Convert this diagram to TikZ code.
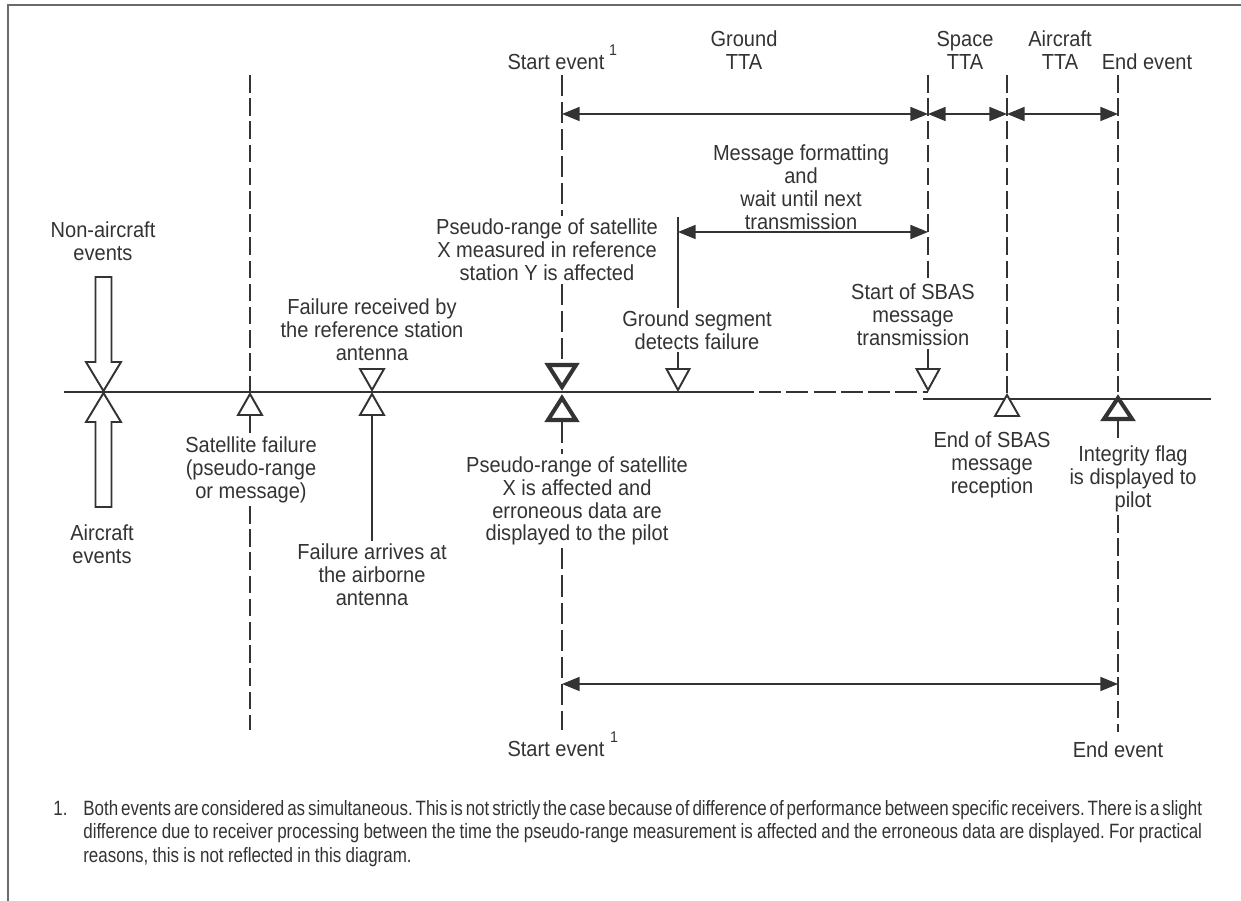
\documentclass[tikz,border=0pt]{standalone}
\usepackage{fontspec}
\setmainfont{Liberation Sans}
\newfontfamily\labfont[FakeStretch=0.92]{Liberation Sans}
\newfontfamily\notefont[FakeStretch=0.818]{Liberation Sans}
\usetikzlibrary{arrows.meta}
\definecolor{ink}{gray}{0.2}
\definecolor{framec}{gray}{0.42}
\begin{document}
\begin{tikzpicture}[x=0.02cm,y=-0.02cm,
  lbl/.style={font=\labfont\fontsize{12.4}{13.0}\selectfont, align=center, inner sep=1.5pt, text=ink},
  supnum/.style={font=\labfont\fontsize{8.8}{9}\selectfont, inner sep=0pt, text=ink},
  tline/.style={draw=ink, line width=1.1pt},
  dline/.style={draw=ink, line width=1.1pt, dash pattern=on 10pt off 3.2pt},
  sline/.style={draw=ink, line width=1.5pt, dash pattern=on 12pt off 3.4pt},
  tldash/.style={draw=ink, line width=1.1pt, dash pattern=on 12.5pt off 3pt},
  dimarrow/.style={draw=ink, line width=0.75pt, {Triangle[length=10pt,width=8pt]}-{Triangle[length=10pt,width=8pt]}},
  evtri/.style={draw=ink, line width=1.1pt, fill=white, line join=miter},
  boldtri/.style={draw=ink, line width=2.3pt, fill=white, line join=miter},
  hollow/.style={draw=ink, line width=1.1pt, fill=white, line join=miter}
]
\useasboundingbox (0,0) rectangle (1241,901);
% frame
\draw[framec, line width=1.1pt] (8,901) -- (8,5) -- (1241,5);

% named x positions
\coordinate (A) at (250,0);
\coordinate (B) at (372,0);
\coordinate (S) at (562,0);
\coordinate (G) at (678,0);
\coordinate (T) at (928,0);
\coordinate (R) at (1007,0);
\coordinate (E) at (1118,0);

% labels
\node[lbl] (nonac) at (103,241) {Non-aircraft\\events};
\node[lbl] (ac) at (102,544) {Aircraft\\events};
\node[lbl] (st) at (556,62) {Start event};
\node[supnum] (st1) at (613,50) {1};
\node[lbl] (gtta) at (744,50) {Ground\\TTA};
\node[lbl] (stta) at (965,50) {Space\\TTA};
\node[lbl] (atta) at (1060,50) {Aircraft\\TTA};
\node[lbl] (et) at (1147,62) {End event};
\node[lbl] (msg) at (801,187) {Message formatting\\and\\wait until next\\transmission};
\node[lbl] (pr1) at (547,250) {Pseudo-range of satellite\\X measured in reference\\station Y is affected};
\node[lbl] (frs) at (372,330) {Failure received by\\the reference station\\antenna};
\node[lbl] (gs) at (697,330) {Ground segment\\detects failure};
\node[lbl] (sbas) at (913,315) {Start of SBAS\\message\\transmission};
\node[lbl] (sf) at (251,470) {Satellite failure\\(pseudo-range\\or message)};
\node[lbl] (fa) at (372,575) {Failure arrives at\\the airborne\\antenna};
\node[lbl] (pr2) at (577,501) {Pseudo-range of satellite\\X is affected and\\erroneous data are\\displayed to the pilot};
\node[lbl] (eos) at (992,465) {End of SBAS\\message\\reception};
\node[lbl] (integ) at (1133,479) {Integrity flag\\is displayed to\\pilot};
\node[lbl] (sb) at (556,749) {Start event};
\node[supnum] (sb1) at (614,737) {1};
\node[lbl] (eb) at (1118,750) {End event};

% footnote
\node[anchor=base west, inner sep=0pt, text=ink, font=\notefont\fontsize{11.8}{13.6}\selectfont] (fnnum) at (53,815) {1.};
\node[anchor=north west, inner sep=0pt, text=ink, font=\notefont\fontsize{11.8}{13.6}\selectfont] (fn) at (83,798)
 {\frenchspacing\fontdimen2\font=0.21em\fontdimen3\font=0.3em\fontdimen4\font=0.08em\begin{tabular}{@{}l@{}}
 \hbox to 22.38cm{Both events are considered as simultaneous. This is not strictly the case because of difference of performance between specific receivers. There is a slight}\\
 \hbox to 22.38cm{difference due to receiver processing between the time the pseudo-range measurement is affected and the erroneous data are displayed. For practical}\\
 reasons, this is not reflected in this diagram.
 \end{tabular}};

% timelines
\draw[tline] (64,392) -- (732,392);
\draw[tldash] (732,392) -- (928,392);
\draw[tline] (923,399) -- (1211,399);

% vertical event lines
\draw[dline] (250,75) -- (250,392);
\draw[dline] (250,415) -- (sf.north -| A);
\draw[dline] (sf.south -| A) -- (250,730);

\draw[tline] (372,415) -- (fa.north -| B);

\draw[sline] (562,75) -- (pr1.north -| S);
\draw[sline] (pr1.south -| S) -- (562,365);
\draw[sline] (562,422) -- (pr2.north -| S);
\draw[sline] (pr2.south -| S) -- (562,730);

\draw[tline] (678,217) -- (gs.north -| G);
\draw[tline] (gs.south -| G) -- (678,369);

\draw[dline] (928,75) -- (sbas.north -| T);
\draw[tline] (sbas.south -| T) -- (928,369);

\draw[dline] (1007,75) -- (1007,393);

\draw[dline] (1118,75) -- (1118,392);
\draw[dline] (1118,420) -- (integ.north -| E);
\draw[dline] (integ.south -| E) -- (1118,732);

% dimension arrows
\coordinate (s1) at (562,114);
\coordinate (t1) at (928,114);
\coordinate (r1) at (1007,114);
\coordinate (e1) at (1118,114);
\coordinate (g2) at (678,232);
\coordinate (t2) at (928,232);
\coordinate (s3) at (562,684);
\coordinate (e3) at (1118,684);
\draw[dimarrow] (s1) -- (t1);
\draw[dimarrow] (t1) -- (r1);
\draw[dimarrow] (r1) -- (e1);
\draw[dimarrow] (g2) -- (t2);
\draw[dimarrow] (s3) -- (e3);

% big hollow arrows
\draw[hollow] (95.5,277) -- (111.5,277) -- (111.5,362) -- (121,362) -- (103.5,391) -- (86,362) -- (95.5,362) -- cycle;
\draw[hollow] (103.5,393) -- (121,422) -- (111.5,422) -- (111.5,507) -- (95.5,507) -- (95.5,422) -- (86,422) -- cycle;

% event triangles
\draw[evtri] (360,369) -- (384,369) -- (372,390) -- cycle;
\draw[evtri] (372,394) -- (384,415) -- (360,415) -- cycle;
\draw[evtri] (250,394) -- (262,415) -- (238,415) -- cycle;
\draw[evtri] (666.5,369) -- (689.5,369) -- (678,390) -- cycle;
\draw[evtri] (916.5,369) -- (939.5,369) -- (928,390) -- cycle;
\draw[evtri] (1007,395) -- (1019,416) -- (995,416) -- cycle;
\draw[boldtri] (548,365) -- (576,365) -- (562,387) -- cycle;
\draw[boldtri] (562,398) -- (576,420) -- (548,420) -- cycle;
\draw[boldtri] (1118,398) -- (1132,419) -- (1104,419) -- cycle;
\end{tikzpicture}
\end{document}
